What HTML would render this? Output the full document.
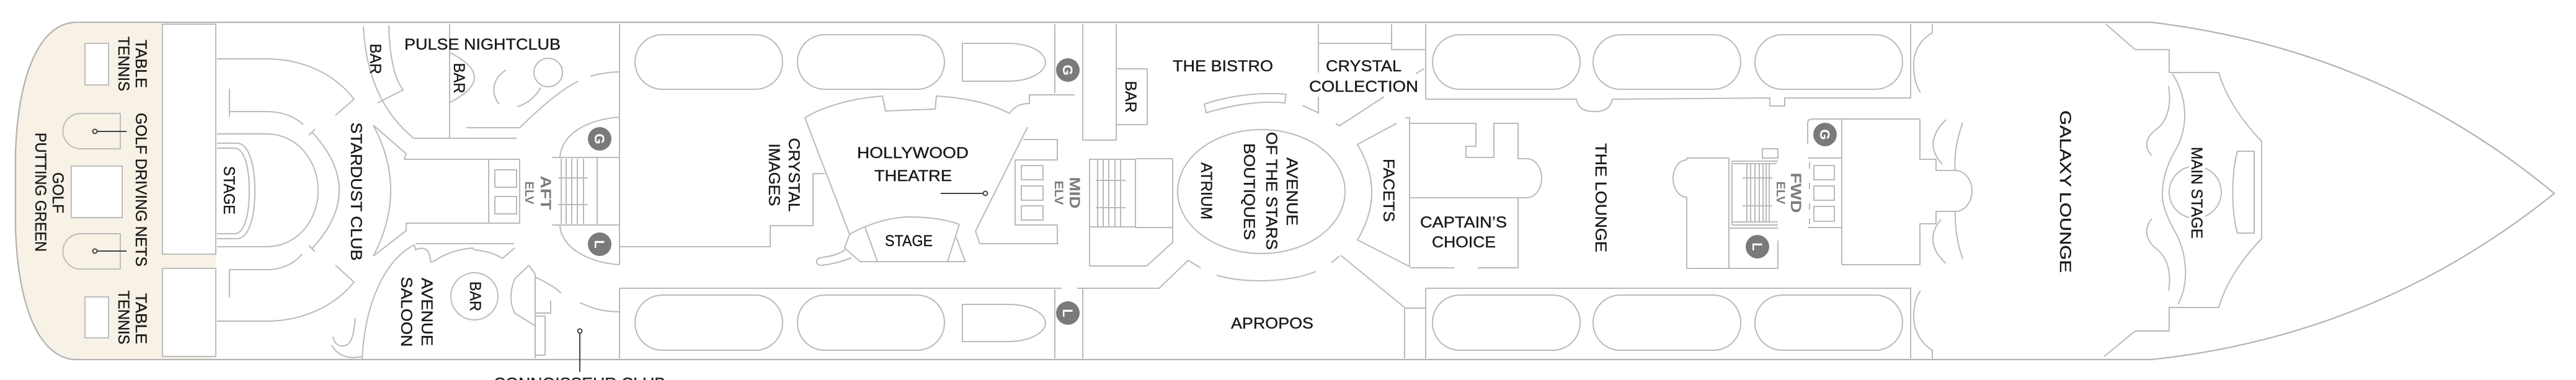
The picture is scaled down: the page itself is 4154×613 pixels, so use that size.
<!DOCTYPE html>
<html>
<head>
<meta charset="utf-8">
<style>
  html,body{margin:0;padding:0;background:#fff;}
  body{width:4154px;height:613px;overflow:hidden;}
  svg{display:block;}
  .t{font-family:"Liberation Sans",sans-serif;font-size:25px;fill:#1a1a1a;stroke:#1a1a1a;stroke-width:0.4px;}
  .g{font-family:"Liberation Sans",sans-serif;font-weight:bold;fill:#7c7c7c;}
  .c{font-family:"Liberation Sans",sans-serif;font-weight:bold;font-size:22px;fill:#fff;}
  .halo{paint-order:stroke;stroke:#fff;stroke-width:7px;stroke-linejoin:round;}
</style>
</head>
<body>
<svg width="4154" height="613" viewBox="0 0 4154 613" xmlns="http://www.w3.org/2000/svg">
  <!-- Hull -->
  <path d="M120 36 L3470 36 C3750 70 3960 180 4119 312 C3960 440 3750 550 3470 580 L120 580 C60 576 28 486 25 366 L25 250 C28 130 60 40 120 36 Z" fill="#fff" stroke="#b3b3b3" stroke-width="2.2"/>
  <!-- Beige stern deck -->
  <path d="M120 37 L348 37 L348 579 L120 579 C61 575 29 486 26 366 L26 250 C29 130 61 41 120 37 Z" fill="#f7f1e6" stroke="none"/>
  <path d="M120 36 C60 40 28 130 25 250 L25 366 C28 486 60 576 120 580" fill="none" stroke="#b3b3b3" stroke-width="2.2"/>

  <g fill="#fff" stroke="#bdbdbd" stroke-width="2">
    <rect x="262" y="39" width="86" height="371"/>
    <rect x="262" y="433" width="86" height="142"/>
    <rect x="137" y="70" width="38" height="67"/>
    <rect x="137" y="479" width="38" height="66"/>
    <rect x="115" y="268" width="82" height="83"/>
  </g>
  <g fill="none" stroke="#bdbdbd" stroke-width="2">
    <path d="M194 183 L130 183 A28.5 28.5 0 0 0 130 240 L194 240 Z"/>
    <path d="M194 377 L130 377 A28.5 28.5 0 0 0 130 434 L194 434 Z"/>
  </g>
  <g stroke="#444" stroke-width="2" fill="none">
    <circle cx="153" cy="212" r="3.5"/><line x1="156.5" y1="212" x2="204" y2="212"/>
    <circle cx="153" cy="405" r="3.5"/><line x1="156.5" y1="405" x2="204" y2="405"/>
    <circle cx="935" cy="534" r="3.5"/><line x1="935" y1="537.5" x2="935" y2="600"/>
    <circle cx="1589" cy="312" r="3.5"/><line x1="1517" y1="312" x2="1585.5" y2="312"/>
  </g>

  <g fill="none" stroke="#bababa" stroke-width="2" stroke-linejoin="round">
    <!-- Stardust club -->
    <path d="M350 95 L429 95 C490 95 540 120 571 160 L541 186"/>
    <path d="M350 518 L429 518 C490 518 540 493 571 455 L541 428"/>
    <path d="M370 143 L370 188 M370 180 L430 180 C455 180 475 188 489 201"/>
    <path d="M370 435 L370 480 M370 435 L430 435 C455 435 475 425 487 410"/>
    <path d="M503 213 Q591 307 503 401 M498 218 L508 208 M498 396 L508 406"/>
    <path d="M350 216 L429 216 C480 216 513 260 513 307 C513 355 480 398 429 398 L350 398"/>
    <path d="M350 231 L382 231 C400 231 411 262 411 308 C411 354 400 385 382 385 L350 385"/>
    <path d="M350 239 L378 239 C393 239 402 266 402 308 C402 350 393 377 378 377 L350 377"/>
    <!-- top bar -->
    <path d="M586 43 C590 120 615 180 667 223 L833 223"/>
    <path d="M627 41 C628 90 635 125 650 145 L609 166"/>
    <!-- lobby -->
    <path d="M602 202 L655 248 L652 257 L838 257 L838 360 L655 360 L655 372 L602 413"/>
    <path d="M602 202 Q658 307 602 413"/>
    <path d="M788 257 L788 360"/>
    <rect x="798" y="274" width="35" height="28"/>
    <rect x="798" y="317" width="35" height="28"/>
    <!-- pulse nightclub -->
    <path d="M725 39 L725 223"/>
    <path d="M724 84 Q806 125 724 166"/>
    <circle cx="884" cy="117" r="23"/>
    <path d="M816 113 C795 125 790 150 805 168"/>
    <path d="M834 172 C850 168 865 155 872 141"/>
    <path d="M752 206 L838 206 C870 175 900 148 932 131"/>
    <path d="M952 123 C970 118 985 116 999 116"/>
    <!-- aft stairs -->
    <path d="M890 254 L999 254 M890 363 L999 363 M963 254 L963 363"/>
    <path d="M905 256 L905 361 M913 256 L913 361 M922 256 L922 361 M931 256 L931 361 M941 256 L941 361"/>
    <path d="M900 287 L948 287 M900 330 L948 330"/>
    <path d="M903 254 C905 215 950 192 999 189"/>
    <path d="M903 364 C905 400 950 424 999 427"/>
    <path d="M999 39 L999 427 M999 465 L999 578"/>
    <!-- avenue saloon -->
    <path d="M670 393 L829 393"/>
    <path d="M668 395 L670 403 C680 398 690 400 693 413 L695 423 L702 420 C720 408 740 402 762 400 L765 403 C785 405 800 410 810 417 L830 400"/>
    <path d="M668 395 C620 420 588 490 584 580"/>
    <circle cx="765" cy="478" r="38"/>
    <path d="M853 428 L830 450 C822 470 822 490 830 505 L862 525"/>
    <path d="M863 442 L863 578 M853 428 L863 442"/>
    <path d="M863 447 C880 455 895 463 905 473"/>
    <path d="M863 505 L888 505 L888 485"/>
    <rect x="863" y="510" width="16" height="63"/>
    <path d="M935 488 C955 498 975 503 1000 503"/>
    <path d="M573 513 C570 540 568 558 552 558 C542 558 538 550 537 543"/>
    <path d="M535 557 C545 575 565 580 583 575"/>

    <!-- aft pills -->
    <rect x="1024" y="56" width="238" height="88" rx="44"/>
    <rect x="1286" y="56" width="237" height="88" rx="44"/>
    <path d="M1552 70 L1625 70 C1662 70 1686 85 1686 100.5 C1686 116 1662 131 1625 131 L1552 131 Z"/>
    <rect x="1024" y="476" width="238" height="89" rx="44"/>
    <rect x="1286" y="476" width="237" height="89" rx="44"/>
    <path d="M1552 491 L1625 491 C1662 491 1686 506 1686 521 C1686 536 1662 551 1625 551 L1552 551 Z"/>
    <path d="M999 465 L1712 465 M1737 465 L1869 465 L1916 420 L1936 432"/>

    <!-- crystal images / theatre -->
    <path d="M999 398 L1242 398 L1242 364 L1311 364 L1311 280 L1330 280"/>
    <path d="M1298 190 C1330 170 1380 158 1423 155 L1428 179 L1508 176 L1510 155 C1560 158 1600 168 1628 183 C1635 172 1645 167 1660 167 L1660 153 L1733 153"/>
    <path d="M1298 190 L1370 378"/>
    <path d="M1370 378 C1400 360 1440 350 1467 350 C1500 350 1530 355 1547 362"/>
    <path d="M1395 367 L1415 422 M1547 362 L1528 422 M1542 383 L1557 423 M1387 422 L1557 422"/>
    <path d="M1370 378 L1362 400 L1387 422"/>
    <path d="M1363 403 C1350 412 1335 414 1322 416 C1314 418 1315 429 1325 428 C1345 426 1362 420 1373 416"/>
    <path d="M1657 205 L1573 373 L1580 393 L1707 393"/>
    <!-- mid elevators -->
    <path d="M1650 225 L1705 225 L1705 258 L1637 258 L1637 363 L1705 363 L1705 393"/>
    <rect x="1647" y="267" width="35" height="23"/>
    <rect x="1647" y="300" width="35" height="23"/>
    <rect x="1647" y="332" width="35" height="23"/>
    <path d="M1701 39 L1701 150 M1746 39 L1746 226 L1800 226 L1800 39"/>
    <path d="M1701 467 L1701 578 M1746 465 L1746 578"/>
    <rect x="1800" y="111" width="50" height="90"/>
    <!-- mid stairs -->
    <path d="M1757 257 L1831 257 M1757 366 L1831 366"/>
    <path d="M1770 258 L1770 365 M1779 258 L1779 365 M1788 258 L1788 365 M1798 258 L1798 365 M1807 258 L1807 365"/>
    <path d="M1767 291 L1815 291 M1767 335 L1815 335"/>
    <path d="M1831 256 L1891 256 L1891 391 L1849 429 L1757 429 L1757 256 M1831 256 L1831 367 L1891 367"/>
    <!-- bistro / atrium -->
    <path d="M1942 168 C1980 155 2030 148 2074 152 L2072 166 C2030 162 1985 170 1945 182 Z"/>
    <ellipse cx="2034" cy="309" rx="135" ry="100"/>
    <path d="M1962 444 C2010 458 2080 455 2122 438"/>
    <!-- crystal collection -->
    <path d="M2126 39 L2126 117 M2126 156 L2126 184 M2126 70 L2244 70 M2244 39 L2244 80 L2299 80 M2299 39 L2299 160"/>
    <path d="M2296 111 L2283 119 M2100 170 L2126 182"/>
    <path d="M2232 156 L2160 203 L2154 199"/>
    <!-- facets / captains -->
    <path d="M2252 199 L2189 233 Q2235 310 2189 387 L2273 430 L2273 190 L2266 190"/>
    <path d="M2274 199 L2380 199 L2380 236 L2364 236 L2364 254 L2409 254 L2409 199 L2448 199 L2448 256 L2462 256 A24 31.5 0 0 1 2462 319 L2274 319"/>
    <path d="M2448 319 L2448 432 L2383 432 M2345 432 L2274 432"/>
    <path d="M2162 412 L2265 496 L2265 578 M2265 497 L2299 497 M2147 424 L2160 413"/>
    <!-- fwd pills -->
    <path d="M2299 160 L2542 160 C2545 175 2555 180 2571 180 C2587 180 2597 175 2600 160 L2854 158 L2854 171 L2878 171 L2878 158 L3081 158 L3081 39"/>
    <rect x="2310" y="56" width="238" height="88" rx="44"/>
    <rect x="2569" y="56" width="238" height="88" rx="44"/>
    <rect x="2830" y="56" width="238" height="88" rx="44"/>
    <rect x="2310" y="476" width="238" height="89" rx="44"/>
    <rect x="2569" y="476" width="238" height="89" rx="44"/>
    <rect x="2830" y="476" width="238" height="89" rx="44"/>
    <path d="M2299 465 L3081 465 M2299 465 L2299 578 M3081 464 L3081 578"/>
    <!-- fwd elevators -->
    <path d="M2788 255 L2720 255 L2720 258 A22 30 0 0 0 2720 318 L2720 433 L2867 433 L2867 388"/>
    <path d="M2788 255 L2788 433 M2788 368 L2867 368"/>
    <path d="M2793 260 L2867 260 M2795 264 L2865 264 M2793 358 L2867 358 M2793 363 L2867 363 M2793 260 L2793 363"/>
    <path d="M2817 264 L2817 358 M2823 264 L2823 358 M2830 264 L2830 358 M2837 264 L2837 358 M2843 264 L2843 358 M2848 264 L2848 358 M2853 264 L2853 358"/>
    <path d="M2810 287 L2858 287 M2810 332 L2858 332"/>
    <rect x="2842" y="240" width="25" height="15"/>
    <path d="M2915 232 L2915 199 Q2915 192 2922 192 L3096 192 M2970 192 L2970 427"/>
    <path d="M2915 255 L2970 255 M2915 367 L2970 367"/>
    <rect x="2925" y="267" width="33" height="23"/>
    <rect x="2925" y="300" width="33" height="23"/>
    <rect x="2925" y="333" width="33" height="24"/>
    <path d="M2918 262 L2918 272 M2918 295 L2918 305 M2918 328 L2918 338 M2918 352 L2918 362"/>
    <path d="M3096 192 L3096 257 L3122 257 L3122 275 L3153 275 A27 33 0 0 1 3153 341 L3122 341 L3122 361 L3096 361 L3096 427 L2970 427"/>
    <path d="M3138 193 Q3100 230 3132 265 M3165 198 Q3150 240 3153 275 M3130 354 Q3100 390 3138 425 M3153 342 Q3152 380 3165 418"/>
    <!-- galaxy lounge -->
    <path d="M3116 39 L3116 53 C3095 65 3086 85 3086 102 C3086 125 3090 140 3097 149"/>
    <path d="M3097 469 C3090 478 3086 493 3086 510 C3086 530 3095 552 3116 565 L3116 578"/>
    <path d="M3396 39 L3443 80 L3498 80 L3498 117 L3578 117 C3590 160 3620 200 3647 228 L3647 385 C3620 413 3590 453 3578 496 L3498 496 L3498 534 L3443 534 L3393 575"/>
    <path d="M3608 244 L3635 244 L3635 376 L3608 376 C3598 340 3598 280 3608 244 Z"/>
    <circle cx="3540" cy="310" r="42"/>
    <path d="M3503 119 C3530 160 3528 210 3507 244 C3492 270 3484 300 3488 326 C3492 345 3500 360 3507 373 C3528 410 3530 460 3512 491"/>
    <path d="M3497 139 C3502 170 3495 195 3478 208 C3462 220 3455 235 3470 251"/>
    <path d="M3470 353 C3455 370 3462 390 3478 402 C3495 415 3502 440 3497 469"/>
  </g>

  <!-- G / L circles -->
  <g fill="#7a7a7a">
    <circle cx="967" cy="224" r="19"/><circle cx="967" cy="394" r="19"/>
    <circle cx="1722" cy="113" r="19"/><circle cx="1722" cy="505" r="19"/>
    <circle cx="2943" cy="217" r="19"/><circle cx="2834" cy="398" r="19"/>
  </g>
  <text class="c" x="967" y="232" text-anchor="middle" transform="rotate(90 967 224)">G</text>
  <text class="c" x="967" y="402" text-anchor="middle" transform="rotate(90 967 394)">L</text>
  <text class="c" x="1722" y="121" text-anchor="middle" transform="rotate(90 1722 113)">G</text>
  <text class="c" x="1722" y="513" text-anchor="middle" transform="rotate(90 1722 505)">L</text>
  <text class="c" x="2943" y="225" text-anchor="middle" transform="rotate(90 2943 217)">G</text>
  <text class="c" x="2834" y="406" text-anchor="middle" transform="rotate(90 2834 398)">L</text>

  <!-- Elevator labels -->
  <text class="g" font-size="24" x="881" y="320" text-anchor="middle" transform="rotate(90 881 311)" textLength="55" lengthAdjust="spacingAndGlyphs">AFT</text>
  <text class="g" font-size="19" x="854" y="318" text-anchor="middle" transform="rotate(90 854 311)" textLength="37" lengthAdjust="spacingAndGlyphs">ELV</text>
  <text class="g" font-size="24" x="1734" y="320" text-anchor="middle" transform="rotate(90 1734 311)" textLength="51" lengthAdjust="spacingAndGlyphs">MID</text>
  <text class="g" font-size="19" x="1708" y="318" text-anchor="middle" transform="rotate(90 1708 311)" textLength="39" lengthAdjust="spacingAndGlyphs">ELV</text>
  <text class="g" font-size="24" x="2897" y="320" text-anchor="middle" transform="rotate(90 2897 311)" textLength="65" lengthAdjust="spacingAndGlyphs">FWD</text>
  <text class="g" font-size="19" x="2872" y="318" text-anchor="middle" transform="rotate(90 2872 311)" textLength="37" lengthAdjust="spacingAndGlyphs">ELV</text>

  <!-- Horizontal labels -->
  <text class="t" x="652" y="80" textLength="252" lengthAdjust="spacingAndGlyphs">PULSE NIGHTCLUB</text>
  <text class="t" x="1891" y="115" textLength="162" lengthAdjust="spacingAndGlyphs">THE BISTRO</text>
  <text class="t" x="1382" y="255" textLength="180" lengthAdjust="spacingAndGlyphs">HOLLYWOOD</text>
  <text class="t" x="1410" y="292" textLength="125" lengthAdjust="spacingAndGlyphs">THEATRE</text>
  <text class="t" x="1427" y="397" textLength="77" lengthAdjust="spacingAndGlyphs">STAGE</text>
  <text class="t" x="1985" y="530" textLength="133" lengthAdjust="spacingAndGlyphs">APROPOS</text>
  <text class="t" x="2138" y="115" textLength="122" lengthAdjust="spacingAndGlyphs">CRYSTAL</text>
  <text class="t" x="2111" y="148" textLength="176" lengthAdjust="spacingAndGlyphs">COLLECTION</text>
  <text class="t" x="2290" y="367" textLength="140" lengthAdjust="spacingAndGlyphs">CAPTAIN’S</text>
  <text class="t" x="2309" y="399" textLength="103" lengthAdjust="spacingAndGlyphs">CHOICE</text>
  <text class="t" x="796" y="627" textLength="277" lengthAdjust="spacingAndGlyphs">CONNOISSEUR CLUB</text>

  <!-- Rotated labels -->
  <text class="t" x="228" y="112" text-anchor="middle" transform="rotate(90 228 103)" textLength="78" lengthAdjust="spacingAndGlyphs">TABLE</text>
  <text class="t" x="200" y="112" text-anchor="middle" transform="rotate(90 200 103)" textLength="88" lengthAdjust="spacingAndGlyphs">TENNIS</text>
  <text class="t" x="228" y="315" text-anchor="middle" transform="rotate(90 228 306)" textLength="248" lengthAdjust="spacingAndGlyphs">GOLF DRIVING NETS</text>
  <text class="t" x="94" y="320" text-anchor="middle" transform="rotate(90 94 311)" textLength="66" lengthAdjust="spacingAndGlyphs">GOLF</text>
  <text class="t" x="66" y="319" text-anchor="middle" transform="rotate(90 66 310)" textLength="192" lengthAdjust="spacingAndGlyphs">PUTTING GREEN</text>
  <text class="t" x="228" y="523" text-anchor="middle" transform="rotate(90 228 514)" textLength="82" lengthAdjust="spacingAndGlyphs">TABLE</text>
  <text class="t" x="200" y="521" text-anchor="middle" transform="rotate(90 200 512)" textLength="87" lengthAdjust="spacingAndGlyphs">TENNIS</text>
  <text class="t" x="370" y="316" text-anchor="middle" transform="rotate(90 370 307)" textLength="78" lengthAdjust="spacingAndGlyphs">STAGE</text>
  <text class="t" x="575" y="318" text-anchor="middle" transform="rotate(90 575 309)" textLength="223" lengthAdjust="spacingAndGlyphs">STARDUST CLUB</text>
  <text class="t" x="606" y="104" text-anchor="middle" transform="rotate(90 606 95)" textLength="49" lengthAdjust="spacingAndGlyphs">BAR</text>
  <text class="t" x="741" y="135" text-anchor="middle" transform="rotate(90 741 126)" textLength="49" lengthAdjust="spacingAndGlyphs">BAR</text>
  <text class="t" x="689" y="512" text-anchor="middle" transform="rotate(90 689 503)" textLength="110" lengthAdjust="spacingAndGlyphs">AVENUE</text>
  <text class="t" x="656" y="512" text-anchor="middle" transform="rotate(90 656 503)" textLength="113" lengthAdjust="spacingAndGlyphs">SALOON</text>
  <text class="t" x="767" y="487" text-anchor="middle" transform="rotate(90 767 478)" textLength="48" lengthAdjust="spacingAndGlyphs">BAR</text>
  <text class="t" x="1281" y="291" text-anchor="middle" transform="rotate(90 1281 282)" textLength="119" lengthAdjust="spacingAndGlyphs">CRYSTAL</text>
  <text class="t" x="1249" y="291" text-anchor="middle" transform="rotate(90 1249 282)" textLength="101" lengthAdjust="spacingAndGlyphs">IMAGES</text>
  <text class="t" x="1824" y="165" text-anchor="middle" transform="rotate(90 1824 156)" textLength="51" lengthAdjust="spacingAndGlyphs">BAR</text>
  <text class="t" x="1946" y="317" text-anchor="middle" transform="rotate(90 1946 308)" textLength="92" lengthAdjust="spacingAndGlyphs">ATRIUM</text>
  <text class="t" x="2084" y="318" text-anchor="middle" transform="rotate(90 2084 309)" textLength="110" lengthAdjust="spacingAndGlyphs">AVENUE</text>
  <text class="t" x="2051" y="317" text-anchor="middle" transform="rotate(90 2051 308)" textLength="190" lengthAdjust="spacingAndGlyphs">OF THE STARS</text>
  <text class="t" x="2015" y="318" text-anchor="middle" transform="rotate(90 2015 309)" textLength="156" lengthAdjust="spacingAndGlyphs">BOUTIQUES</text>
  <text class="t" x="2240" y="316" text-anchor="middle" transform="rotate(90 2240 307)" textLength="102" lengthAdjust="spacingAndGlyphs">FACETS</text>
  <text class="t" x="2582" y="328" text-anchor="middle" transform="rotate(90 2582 319)" textLength="176" lengthAdjust="spacingAndGlyphs">THE LOUNGE</text>
  <text class="t" x="3331" y="318" text-anchor="middle" transform="rotate(90 3331 309)" textLength="262" lengthAdjust="spacingAndGlyphs">GALAXY LOUNGE</text>
  <rect x="3530" y="236" width="26" height="150" fill="#fff"/>
  <text class="t" x="3543" y="320" text-anchor="middle" transform="rotate(90 3543 311)" textLength="148" lengthAdjust="spacingAndGlyphs">MAIN STAGE</text>
</svg>
</body>
</html>
